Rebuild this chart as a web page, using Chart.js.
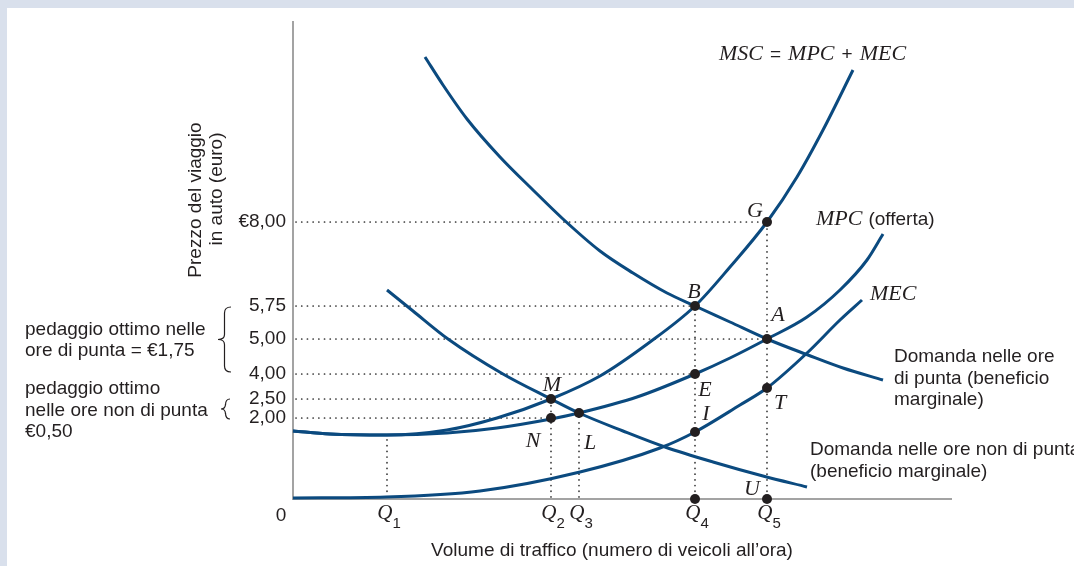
<!DOCTYPE html>
<html lang="it">
<head>
<meta charset="utf-8">
<title>Pedaggio ottimo e congestione del traffico</title>
<script src="https://cdn.jsdelivr.net/npm/chart.js@4.4.1/dist/chart.umd.min.js"></script>
<style>
  html, body { margin: 0; padding: 0; background: #fff; }
  #wrap { width: 1074px; height: 566px; }
</style>
</head>
<body>
<div id="wrap"><canvas id="chart" width="1074" height="566"></canvas></div>
<script>
// Schema non in scala: unità del grafico sull'asse x (volume) e sull'asse y (prezzo)
const xMax = 658;
const yMax = 477;

// Curve (x, y)
const domandaPunta = [[132,442],[150,414],[174,380],[207,342],[240,309],[270,280],[307,248],[340,226],[374,206],[402,193],[437,177],[474,160],[515,144],[550,131],[590,119]];
const domandaNonPunta = [[94,209],[120,188],[155,160],[210,125],[258,100],[286,86],[330,68],[372,52],[420,37],[470,23],[514,12]];
const curvaMSC = [[0,68],[37,65],[94,64],[154,69],[204,81],[258,100],[307,123],[357,157],[402,193],[437,232],[474,277],[504,322],[530,369],[560,429]];
const curvaMPC = [[0,68],[37,65],[94,64],[154,66],[204,71],[258,80],[286,86],[344,102],[402,125],[437,141],[474,160],[514,182],[547,209],[574,239],[590,265]];
const curvaMEC = [[0,1],[93,2],[187,8],[287,27],[367,51],[402,67],[447,94],[474,111],[514,146],[547,179],[569,199]];

// Punti notevoli
const puntiNomi = ['G', 'B', 'A', 'E', 'M', 'N', 'L', 'T', 'I', '', 'U'];
const puntiX = [474, 402, 474, 402, 258, 258, 286, 474, 402, 402, 474];
const puntiY = [277, 193, 160, 125, 100, 81, 86, 111, 67, 0, 0];

// Asse y: posizioni ed etichette dei prezzi
const yTickValori = [81, 100, 125, 160, 193, 277];
const yTickEtichette = ['2,00', '2,50', '4,00', '5,00', '5,75', '€8,00'];
const guideOrizzFine = [258, 258, 402, 474, 402, 474];

// Asse x: quantità
const qValori = [94, 258, 286, 402, 474];
const qPedici = ['1', '2', '3', '4', '5'];
const qAltezzaGuida = [64, 100, 86, 193, 277];

const testoColore = '#231f20';
const bluCurve = '#0b4a7f';
const SANS = '"Liberation Sans", Arial, sans-serif';
const SERIF = '"Liberation Serif", "Times New Roman", serif';

// spostamento (px) delle lettere rispetto al punto: [dx, dy baseline]
const offsetLettere = {
    G: [-12, -5], B: [-1, -8], A: [11, -18], E: [10, 22], M: [1, -8],
    N: [-18, 29], L: [11, 36], T: [13, 21], I: [11, -12], U: [-15, -4]
};

function xy(arr) {
    return arr.map(p => ({ x: p[0], y: p[1] }));
}

function curva(arr) {
    return {
        data: xy(arr),
        borderColor: bluCurve,
        borderWidth: 3,
        cubicInterpolationMode: 'monotone',
        pointRadius: 0,
        order: 2,
        clip: false
    };
}

function lineaGuida(arr) {
    return {
        data: xy(arr),
        borderColor: '#333333',
        borderWidth: 1.7,
        borderDash: [0.1, 5.6],
        borderCapStyle: 'round',
        pointRadius: 0,
        order: 3,
        clip: false
    };
}

function graffa(ctx, x, y1, y2, d) {
    const ym = (y1 + y2) / 2;
    const xs = x - d * 0.5;
    ctx.beginPath();
    ctx.moveTo(x, y1);
    ctx.quadraticCurveTo(xs, y1, xs, y1 + 6);
    ctx.lineTo(xs, ym - 5);
    ctx.quadraticCurveTo(xs, ym, x - d, ym);
    ctx.quadraticCurveTo(xs, ym, xs, ym + 5);
    ctx.lineTo(xs, y2 - 6);
    ctx.quadraticCurveTo(xs, y2, x, y2);
    ctx.stroke();
}

function righe(ctx, lines, x, y0, step) {
    lines.forEach((t, i) => ctx.fillText(t, x, y0 + i * step));
}

const pluginSfondo = {
    id: 'sfondo',
    beforeDraw(chart) {
        const { ctx, width, height } = chart;
        ctx.save();
        ctx.fillStyle = '#ffffff';
        ctx.fillRect(0, 0, width, height);
        ctx.fillStyle = '#d9e0ec';
        ctx.fillRect(0, 0, width, 8);
        ctx.fillRect(0, 0, 7, height);
        ctx.restore();
    }
};

const pluginTesti = {
    id: 'testi',
    afterDraw(chart) {
        const { ctx } = chart;
        const xs = chart.scales.x;
        const ys = chart.scales.y;
        const px = v => xs.getPixelForValue(v);
        const py = v => ys.getPixelForValue(v);
        ctx.save();
        ctx.fillStyle = testoColore;
        ctx.strokeStyle = testoColore;
        ctx.textBaseline = 'alphabetic';

        // lettere dei punti
        ctx.font = `italic 22px ${SERIF}`;
        ctx.textAlign = 'center';
        puntiNomi.forEach((nome, i) => {
            if (!nome) return;
            const off = offsetLettere[nome];
            ctx.fillText(nome, px(puntiX[i]) + off[0], py(puntiY[i]) + off[1]);
        });

        // Q con pedice
        const yBase = py(0);
        qValori.forEach((q, i) => {
            const cx = px(q) + 2;
            ctx.font = `italic 21px ${SERIF}`;
            const wQ = ctx.measureText('Q').width;
            ctx.font = `15px ${SANS}`;
            const wN = ctx.measureText(qPedici[i]).width;
            const x0 = cx - (wQ + wN) / 2;
            ctx.textAlign = 'left';
            ctx.font = `italic 21px ${SERIF}`;
            ctx.fillText('Q', x0, yBase + 20);
            ctx.font = `15px ${SANS}`;
            ctx.fillText(qPedici[i], x0 + wQ, yBase + 29);
        });

        // origine
        ctx.font = `19px ${SANS}`;
        ctx.textAlign = 'center';
        ctx.fillText('0', px(0) - 12, yBase + 22);

        // titolo asse x
        ctx.fillText('Volume di traffico (numero di veicoli all’ora)', 612, 556);

        // titolo asse y (ruotato)
        ctx.save();
        ctx.translate(201, 200);
        ctx.rotate(-Math.PI / 2);
        ctx.fillText('Prezzo del viaggio', 0, 0);
        ctx.restore();
        ctx.save();
        ctx.translate(222, 189);
        ctx.rotate(-Math.PI / 2);
        ctx.fillText('in auto (euro)', 0, 0);
        ctx.restore();

        // etichette delle curve
        const fine = arr => arr[arr.length - 1];
        ctx.textAlign = 'left';

        let [ex, ey] = fine(curvaMSC);
        let cx = px(ex) - 134;
        const by = py(ey) - 10;
        const pezzi = [['MSC', true], ['=', false], ['MPC', true], ['+', false], ['MEC', true]];
        pezzi.forEach(([t, it]) => {
            ctx.font = it ? `italic 22px ${SERIF}` : `19px ${SANS}`;
            ctx.fillText(t, cx, by);
            cx += ctx.measureText(t).width + 7;
        });

        [ex, ey] = fine(curvaMPC);
        ctx.font = `italic 22px ${SERIF}`;
        const mpcX = px(ex) - 67, mpcY = py(ey) - 9;
        ctx.fillText('MPC', mpcX, mpcY);
        const wMpc = ctx.measureText('MPC').width;
        ctx.font = `19px ${SANS}`;
        ctx.fillText('(offerta)', mpcX + wMpc + 6, mpcY);

        [ex, ey] = fine(curvaMEC);
        ctx.font = `italic 22px ${SERIF}`;
        ctx.fillText('MEC', px(ex) + 8, py(ey));

        ctx.font = `19px ${SANS}`;
        [ex, ey] = fine(domandaPunta);
        righe(ctx, ['Domanda nelle ore', 'di punta (beneficio', 'marginale)'], px(ex) + 11, py(ey) - 18, 21.5);
        [ex, ey] = fine(domandaNonPunta);
        righe(ctx, ['Domanda nelle ore non di punta', '(beneficio marginale)'], px(ex) + 3, py(ey) - 32, 21.5);

        // pedaggi a sinistra con graffe
        ctx.lineWidth = 1.2;
        const gTop = py(193) + 1, gBot = py(125) - 2;
        graffa(ctx, 231, gTop, gBot, 13);
        const gMid = (gTop + gBot) / 2;
        righe(ctx, ['pedaggio ottimo nelle', 'ore di punta = €1,75'], 25, gMid - 5, 21);

        const sTop = py(100), sBot = py(81) + 1;
        graffa(ctx, 230, sTop, sBot, 9);
        const sMid = (sTop + sBot) / 2;
        righe(ctx, ['pedaggio ottimo', 'nelle ore non di punta', '€0,50'], 25, sMid - 15, 21.5);

        ctx.restore();
    }
};

const datasets = [];
datasets.push({
    data: puntiX.map((x, i) => ({ x: x, y: puntiY[i] })),
    showLine: false,
    pointRadius: 5,
    pointBackgroundColor: testoColore,
    pointBorderWidth: 0,
    order: 1,
    clip: false
});
[curvaMSC, curvaMPC, curvaMEC, domandaPunta, domandaNonPunta].forEach(c => datasets.push(curva(c)));
yTickValori.forEach((v, i) => datasets.push(lineaGuida([[3, v], [guideOrizzFine[i], v]])));
qValori.forEach((q, i) => datasets.push(lineaGuida([[q, 2], [q, qAltezzaGuida[i]]])));

new Chart(document.getElementById('chart'), {
    type: 'line',
    data: { datasets: datasets },
    options: {
        responsive: false,
        devicePixelRatio: 1,
        animation: false,
        events: [],
        layout: { padding: { top: 22, right: 123, left: 0, bottom: 0 } },
        plugins: { legend: { display: false }, tooltip: { enabled: false } },
        scales: {
            x: {
                type: 'linear',
                min: 0,
                max: xMax,
                grid: { display: false, drawTicks: false },
                border: { color: '#a3a3a3', width: 2 },
                ticks: { display: false },
                afterFit(s) { s.height = 67; }
            },
            y: {
                type: 'linear',
                min: 0,
                max: yMax,
                grid: { display: false, drawTicks: false },
                border: { color: '#a3a3a3', width: 2 },
                ticks: {
                    autoSkip: false,
                    padding: 7,
                    color: testoColore,
                    font: { family: SANS, size: 19 },
                    callback: (v, i) => yTickEtichette[i]
                },
                afterBuildTicks(s) { s.ticks = yTickValori.map(v => ({ value: v })); },
                afterFit(s) { s.width = 293; }
            }
        }
    },
    plugins: [pluginSfondo, pluginTesti]
});
</script>
</body>
</html>
